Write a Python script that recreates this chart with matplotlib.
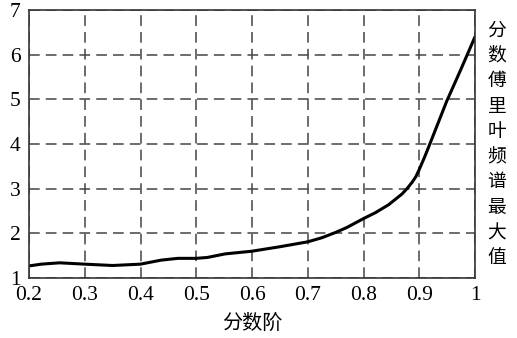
import matplotlib
matplotlib.use("Agg")
import matplotlib.pyplot as plt

x_vals = [0.2, 0.222, 0.255, 0.3, 0.35, 0.4, 0.437, 0.467, 0.5, 0.52, 0.552, 0.6,
          0.65, 0.7, 0.725, 0.75, 0.77, 0.785, 0.8, 0.821, 0.845, 0.869, 0.878,
          0.887, 0.894, 0.9, 0.91, 0.919, 0.949, 0.975, 1.0]
y_vals = [1.27, 1.31, 1.34, 1.31, 1.28, 1.31, 1.40, 1.44, 1.44, 1.46, 1.54, 1.60,
          1.70, 1.81, 1.90, 2.02, 2.13, 2.23, 2.33, 2.46, 2.64, 2.88, 3.00,
          3.14, 3.27, 3.43, 3.72, 4.00, 4.95, 5.68, 6.40]
x_ticks = [0.2, 0.3, 0.4, 0.5, 0.6, 0.7, 0.8, 0.9, 1.0]
x_tick_labels = ["0.2", "0.3", "0.4", "0.5", "0.6", "0.7", "0.8", "0.9", "1"]
y_ticks = [1, 2, 3, 4, 5, 6, 7]
x_label = "分数阶"
y_label = "分数傅里叶频谱最大值"

plt.rcParams['font.family'] = ['Liberation Serif', 'Noto Sans CJK SC']

fig = plt.figure(figsize=(5.17, 3.38), dpi=100)
ax = fig.add_axes([29/517, 60/338, 446/517, 268/338])

ax.plot(x_vals, y_vals, color='black', lw=2.2, solid_capstyle='round',
        solid_joinstyle='round')
ax.set_xlim(0.2, 1.0)
ax.set_ylim(1, 7)
ax.set_xticks(x_ticks)
ax.set_xticklabels(x_tick_labels)
ax.set_yticks(y_ticks)
ax.tick_params(length=0, labelsize=15.5)
ax.tick_params(axis='x', pad=6)
ax.tick_params(axis='y', pad=6)
ax.grid(True, color='#444444', lw=1.1, linestyle=(0, (7, 4)))
for s in ax.spines.values():
    s.set_color('#333333')
    s.set_linewidth(1.2)

fig.text(252/517, 1 - 323/338, x_label, ha='center', va='center',
         fontsize=14.5, family=['Noto Sans CJK SC'])
fig.text(497/517, 1 - 144/338, "\n".join(y_label), ha='center', va='center',
         fontsize=13.5, linespacing=1.27, family=['Noto Sans CJK SC'])

fig.savefig("out.png", dpi=100)
